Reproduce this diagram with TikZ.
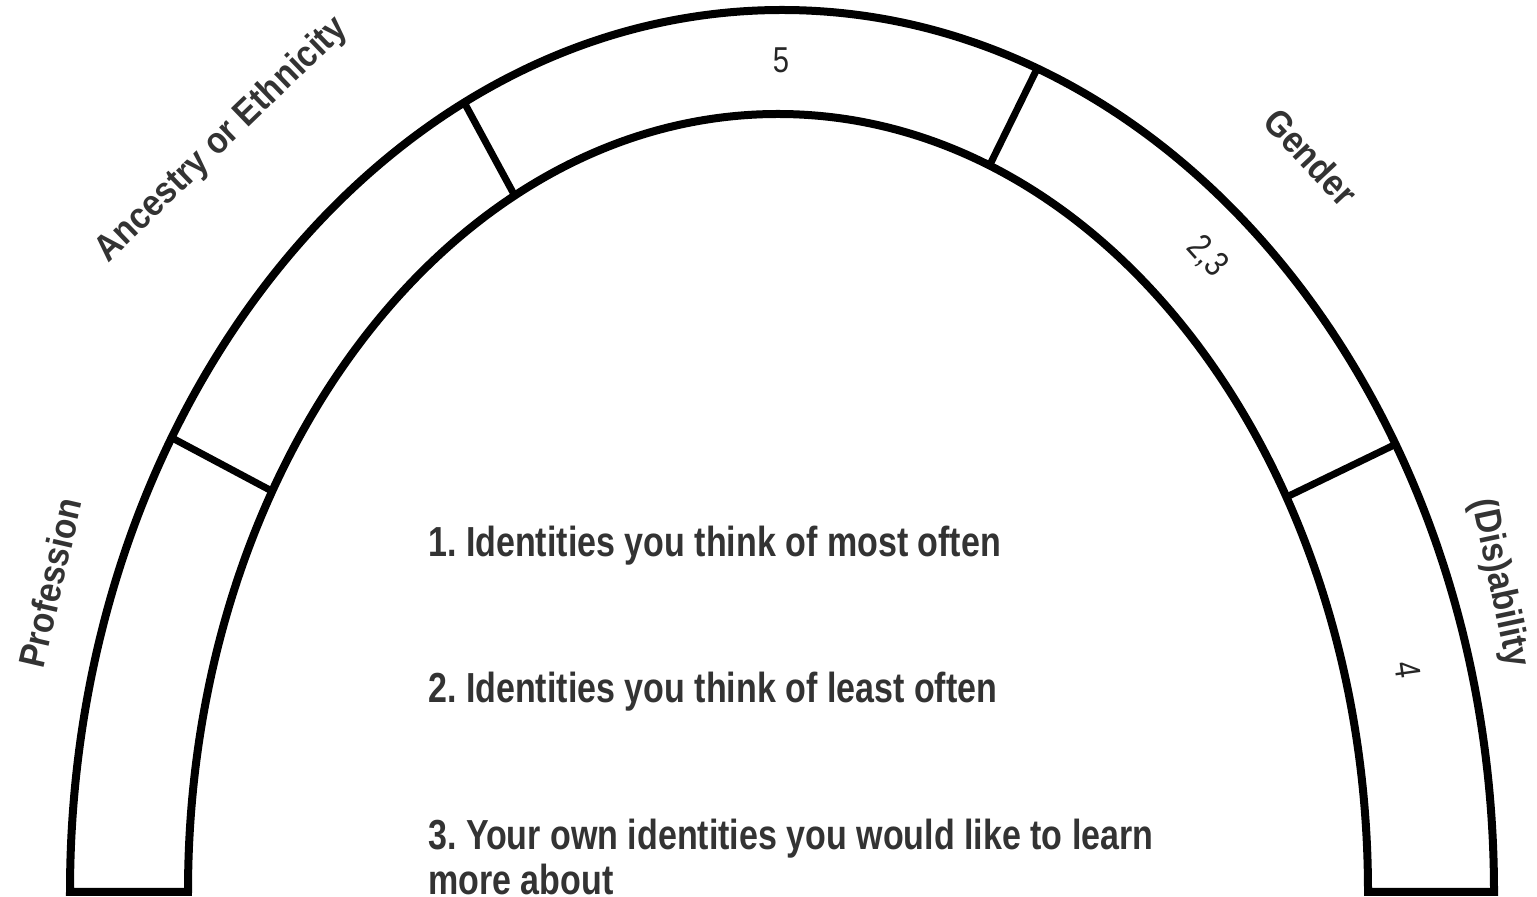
\documentclass[tikz,border=0pt]{standalone}
\usepackage{fontspec}
\setmainfont{Liberation Sans}[FakeStretch=0.81]
\newfontfamily\arcfont{Liberation Sans}[FakeStretch=0.9]
\frenchspacing
\usetikzlibrary{positioning}

\begin{document}
\begin{tikzpicture}[
        x=1pt, y=1pt,
        band/.style={draw=black, line width=8pt},
        divider/.style={draw=black, line width=7pt},
        arclabel/.style={
            font=\arcfont\fontsize{37}{40}\selectfont\bfseries,
            text=black!80,
            inner sep=0pt
        },
        count/.style={
            font=\fontsize{36}{40}\selectfont,
            text=black!85,
            inner sep=0pt
        },
        item/.style={
            font=\fontsize{42}{45}\selectfont\bfseries,
            text=black!80,
            anchor=base west,
            align=left,
            inner sep=0pt
        }
    ]
        \useasboundingbox (0,0) rectangle (1537,897);

        % the half ring
        \draw[band] (70,5) arc[start angle=180, end angle=0, x radius=712pt, y radius=882pt]
            -- (1368,5) arc[start angle=0, end angle=180, x radius=590pt, y radius=778pt] -- cycle;
        \foreach \t in {149,116.5,69,30.5}
            \draw[divider] ({782+712*cos(\t)},{5+882*sin(\t)}) -- ({778+590*cos(\t)},{5+778*sin(\t)});

        \node[arclabel, rotate=77] (prof) at (50,314) {Profession};
        \node[arclabel, rotate=44] (anc) at (222,757) {Ancestry or Ethnicity};
        \node[arclabel, rotate=-47] (gen) at (1311,740) {Gender};
        \node[arclabel, rotate=-78] (dis) at (1499,314) {(Dis)ability};

        \node[count] (five) at (781,837) {5};
        \node[count, rotate=-48] (twothree) at (1207,640) {2,3};
        \node[count, rotate=-82] (four) at (1408,227) {4};

        \node[item] (first) at (428,340) {1. Identities you think of most often};
        \node[item] (second) at (428,194) {2. Identities you think of least often};
        \node[item] (third) at (428,2) {3. Your own identities you would like to learn\\more about};
    \end{tikzpicture}
\end{document}
